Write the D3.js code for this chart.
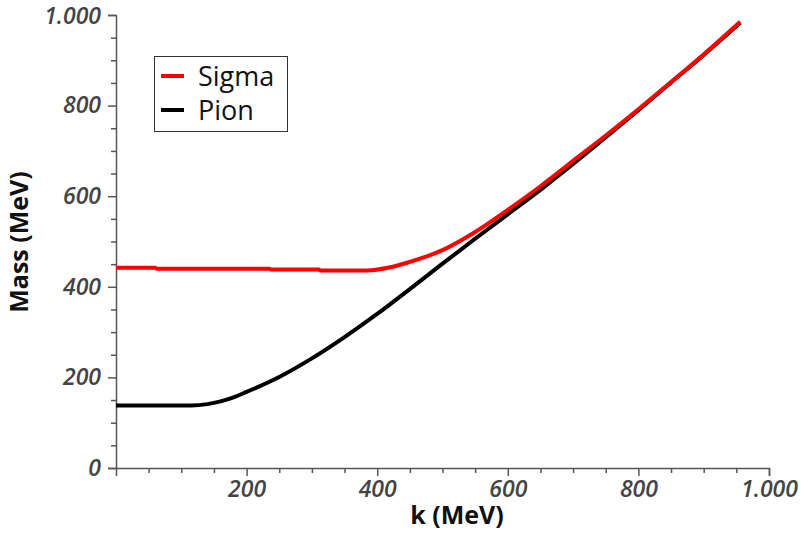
<!DOCTYPE html>
<html>
<head>
<meta charset="utf-8">
<script src="https://cdn.jsdelivr.net/npm/d3@7/dist/d3.min.js"></script>
<style>
  html, body { margin: 0; padding: 0; background: #fff; }
  svg { display: block; }
  .tick-label { font-family: "Open Sans", sans-serif; font-style: italic; font-weight: 600; font-size: 23px; fill: #444; }
  .axis-title { font-family: "Open Sans", sans-serif; font-weight: bold; font-size: 25px; fill: #111; }
  .legend-text { font-family: "Open Sans", sans-serif; font-size: 27px; fill: #111; }
</style>
</head>
<body>
<svg id="chart" width="808" height="533"></svg>
<script>
// Momentum grid (MeV) and masses (MeV) for the two modes
const pionK     = [0, 50, 100, 115, 140, 160, 180, 200, 250, 300, 350, 400, 450, 500, 550, 600, 650, 700, 750, 800, 850, 900, 956];
const pionMass  = [138, 138, 138, 138, 141, 147, 156, 168, 201, 242, 289, 340, 395, 451, 506, 560, 614, 671, 730, 790, 851, 912, 983];

const sigmaK    = [0, 60, 62, 235, 237, 311, 313, 385, 420, 450, 500, 550, 600, 650, 700, 750, 800, 850, 900, 956];
const sigmaMass = [442, 442, 440, 440, 438, 438, 436, 436, 443, 455, 481, 521, 570, 622, 678, 734, 792, 852, 913, 985];

const xMajorTicks = [200, 400, 600, 800, 1000];
const yMajorTicks = [0, 200, 400, 600, 800, 1000];
const tickText = d => d >= 1000 ? "1.000" : String(d);

const seriesNames  = ["Sigma", "Pion"];
const seriesColors = ["#ff0000", "#000000"];

const svg = d3.select("#chart");

const x = d3.scaleLinear().domain([0, 1000]).range([116, 769]);
const y = d3.scaleLinear().domain([0, 1000]).range([468, 15]);

const axisColor = "#555";

// Y axis: major ticks labelled, minor ticks every 50
const yAxis = svg.append("g").attr("transform", `translate(${x(0)},0)`);
yAxis.call(d3.axisLeft(y).tickValues(yMajorTicks).tickFormat(tickText).tickSize(8).tickPadding(7));
const yMinor = svg.append("g").attr("transform", `translate(${x(0)},0)`);
yMinor.call(d3.axisLeft(y).tickValues(d3.range(50, 1000, 50).filter(v => v % 200 !== 0)).tickFormat("").tickSize(5));
yMinor.select(".domain").remove();

// X axis
const xAxis = svg.append("g").attr("transform", `translate(0,${y(0)})`);
xAxis.call(d3.axisBottom(x).tickValues(xMajorTicks).tickFormat(tickText).tickSize(8).tickPadding(5));
const xMinor = svg.append("g").attr("transform", `translate(0,${y(0)})`);
xMinor.call(d3.axisBottom(x).tickValues(d3.range(50, 1000, 50).filter(v => v % 200 !== 0)).tickFormat("").tickSize(5));
xMinor.select(".domain").remove();

svg.selectAll(".domain").attr("stroke", axisColor).attr("stroke-width", 1.5);
svg.selectAll(".tick line").attr("stroke", axisColor).attr("stroke-width", 1.5);
svg.selectAll(".tick text").attr("class", "tick-label").attr("fill", null);
// keep the top label inside the frame
yAxis.selectAll(".tick").filter(d => d === 1000).select("text").attr("dy", "0.38em");

// Curves
const line = d3.line().x(d => x(d[0])).y(d => y(d[1])).curve(d3.curveMonotoneX);
const series = [
  { name: "Pion",  k: pionK,  m: pionMass,  color: seriesColors[1] },
  { name: "Sigma", k: sigmaK, m: sigmaMass, color: seriesColors[0] }
];
series.forEach(s => {
  svg.append("path")
    .datum(s.k.map((k, i) => [k, s.m[i]]))
    .attr("fill", "none")
    .attr("stroke", s.color)
    .attr("stroke-width", 4)
    .attr("stroke-linejoin", "round")
    .attr("d", line);
});

// Axis titles
svg.append("text").attr("class", "axis-title")
  .attr("x", 457).attr("y", 524).attr("text-anchor", "middle").text("k (MeV)");
svg.append("text").attr("class", "axis-title")
  .attr("transform", "translate(28,242) rotate(-90)")
  .attr("text-anchor", "middle").text("Mass (MeV)");

// Legend
const legend = svg.append("g");
legend.append("rect").attr("x", 154.5).attr("y", 56.5).attr("width", 133).attr("height", 75)
  .attr("fill", "#fff").attr("stroke", "#333").attr("stroke-width", 1);
seriesNames.forEach((name, i) => {
  const cy = 76 + i * 34;
  legend.append("line").attr("x1", 161).attr("x2", 184).attr("y1", cy).attr("y2", cy)
    .attr("stroke", seriesColors[i]).attr("stroke-width", 4);
  legend.append("text").attr("class", "legend-text").attr("x", 198).attr("y", cy + 10).text(name);
});
</script>
</body>
</html>
